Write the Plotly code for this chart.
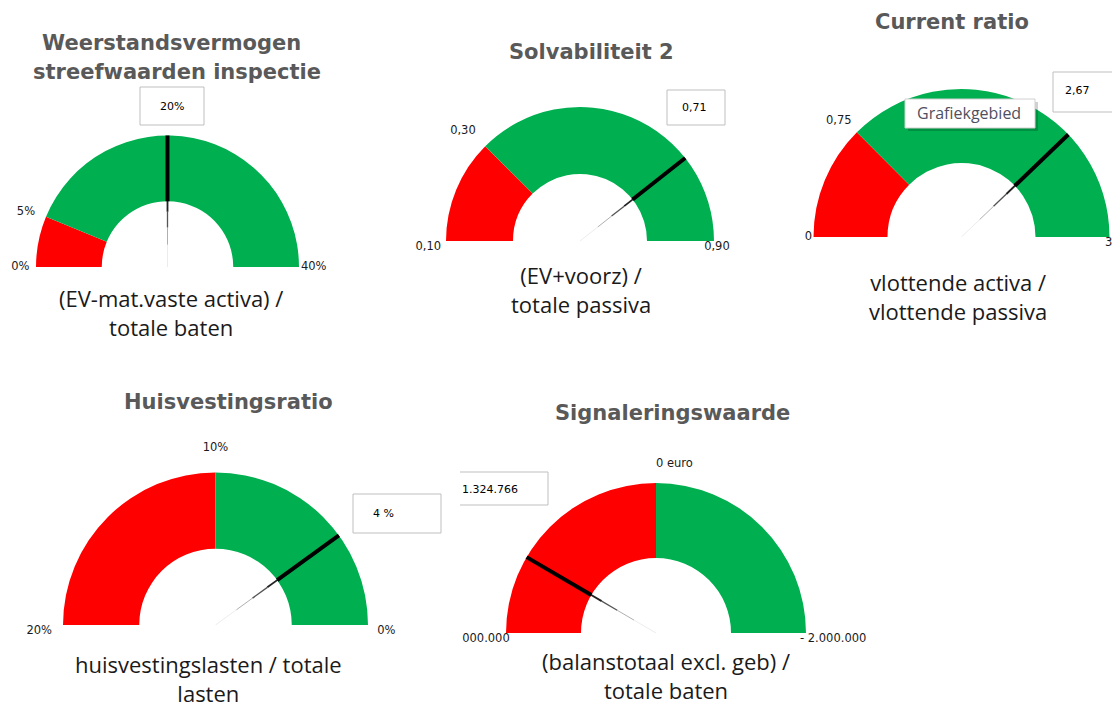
import plotly.graph_objects as go

PAGE_OFF = 8            # browser body margin around the plotly div
W, H = 1120 - PAGE_OFF, 708 - PAGE_OFF

# ---------------- data ----------------
title_lines = [
    ["Weerstandsvermogen", "streefwaarden inspectie"],
    ["Solvabiliteit 2"],
    ["Current ratio"],
    ["Huisvestingsratio"],
    ["Signaleringswaarde"],
]
subtitles = [
    "(EV-mat.vaste activa) /<br>totale baten",
    "(EV+voorz) /<br>totale passiva",
    "vlottende activa /<br>vlottende passiva",
    "huisvestingslasten / totale<br>lasten",
    "(balanstotaal excl. geb) /<br>totale baten",
]
scale_left = [0, 0.10, 0, 20, 2000000]          # value at left end of gauge
scale_right = [40, 0.90, 3, 0, -2000000]        # value at right end of gauge
thresholds = [5, 0.30, 0.75, 10, 0]             # red / green boundary
value_labels = ["20%", "0,71", "2,67", "4 %", "1.324.766"]   # values in the boxes
needle_values = [20, 0.73, 2.27, 4, 1324766]    # where the needles point
tick_labels = [
    ["0%", "5%", "40%"],
    ["0,10", "0,30", "0,90"],
    ["0", "0,75", "3"],
    ["20%", "10%", "0%"],
    ["000.000", "0 euro", "- 2.000.000"],
]
band_colors = ["#FF0000", "#00B050"]

# ---------------- styling / layout geometry (page pixels) ----------------
gauge_geom = [  # center x, baseline y, outer radius of the band
    (167.5, 267, 131.5),
    (580, 241, 134),
    (961.5, 237, 148),
    (215.5, 625, 152.5),
    (656, 633, 150),
]
RMAX = [1.15, 1.15, 1.068, 1.16, 1.12]     # radial room for the scale labels
label_r = [
    [1.05, 1.09, 1.015],
    [1.037, 1.10, 1.022],
    [1.01, 1.05, 0.995],
    [1.072, 1.12, 1.06],
    [0.975, 1.087, 0.96],
]
label_tp = [
    ["middle left", "middle left", "middle right"],
    ["bottom left", "top left", "bottom center"],
    ["middle left", "top left", "bottom center"],
    ["bottom left", "top center", "bottom right"],
    ["bottom left", "top right", "bottom right"],
]
title_pos = [
    [(171, 43), (177, 72)],
    [(591, 52)],
    [(952, 22)],
    [(228, 402)],
    [(672, 413)],
]
subtitle_pos = [(171, 312), (581, 290), (958, 297), (208, 678), (666, 675)]
box_rect = [
    (140, 87, 204, 125),
    (667, 90, 725, 125),
    (1053, 72, 1113, 112),
    (353, 494, 441, 533),
    (460, 472, 548, 505),
]
box_text_pos = [(172, 106, "center"), (694, 107, "center"), (1077, 91, "center"),
                (383, 513, "center"), (460, 489, "left")]
INNER = 0.5


def px(x):
    return (x - PAGE_OFF) / W


def py(y):
    return 1 - (y - PAGE_OFF) / H


fig = go.Figure()
annotations = []
shapes = []

for i in range(5):
    lo, hi = scale_left[i], scale_right[i]

    def ang(v, lo=lo, hi=hi):
        return (v - lo) / (hi - lo) * 180.0

    pid = "polar" if i == 0 else f"polar{i+1}"
    # coloured bands
    a0, a1, a2 = ang(lo), ang(thresholds[i]), ang(hi)
    fig.add_trace(go.Barpolar(
        theta=[(a0 + a1) / 2, (a1 + a2) / 2],
        width=[a1 - a0, a2 - a1],
        r=[1 - INNER, 1 - INNER],
        base=[INNER, INNER],
        marker=dict(color=band_colors, line=dict(width=0)),
        subplot=pid, hoverinfo="skip", showlegend=False,
    ))
    # needle: tapering inner part + thick outer part
    av = ang(needle_values[i])
    segs = [(0.0, 0.17, 0.4, "#D0D0D0"), (0.17, 0.3, 0.8, "#9A9A9A"),
            (0.3, 0.42, 1.3, "#555555"), (0.42, 0.52, 1.8, "#222222"),
            (0.5, 1.0, 4.0, "#000000")]
    for r0, r1, wdt, col in segs:
        fig.add_trace(go.Scatterpolar(
            r=[r0, r1], theta=[av, av], mode="lines",
            line=dict(color=col, width=wdt),
            subplot=pid, hoverinfo="skip", showlegend=False,
        ))
    # scale labels
    fig.add_trace(go.Scatterpolar(
        r=label_r[i], theta=[a0, a1, a2], mode="text",
        text=tick_labels[i], textposition=label_tp[i],
        textfont=dict(family="DejaVu Sans", size=11.5, color="#1a1a1a"),
        cliponaxis=False, subplot=pid, hoverinfo="skip", showlegend=False,
    ))

    cx, cy, R = gauge_geom[i]
    Rm = R * RMAX[i]
    fig.update_layout(**{pid: dict(
        domain=dict(x=[max(0, px(cx - Rm)), min(1, px(cx + Rm))],
                    y=[py(cy), py(cy - Rm)]),
        sector=[0, 180],
        bgcolor="rgba(0,0,0,0)",
        radialaxis=dict(range=[0, RMAX[i]], visible=False),
        angularaxis=dict(
            direction="clockwise", rotation=180, thetaunit="degrees",
            visible=False,
        ),
    )})

    for txt, (x, y) in zip(title_lines[i], title_pos[i]):
        annotations.append(dict(
            text=f"<b>{txt}</b>", x=px(x), y=py(y), xref="paper", yref="paper",
            xanchor="center", yanchor="middle", showarrow=False,
            font=dict(family="DejaVu Sans", size=21, color="#595959")))
    sx, sy = subtitle_pos[i]
    annotations.append(dict(
        text=subtitles[i], x=px(sx), y=py(sy), xref="paper", yref="paper",
        xanchor="center", yanchor="middle", showarrow=False,
        font=dict(family="Open Sans", size=22, color="#1a1a1a")))

    x0, y0, x1, y1 = box_rect[i]
    if i == 4:
        shapes.append(dict(type="path", xref="paper", yref="paper",
                           path=f"M {px(x0)},{py(y0)} L {px(x1)},{py(y0)} L {px(x1)},{py(y1)} L {px(x0)},{py(y1)}",
                           line=dict(color="#BFBFBF", width=1)))
    else:
        shapes.append(dict(type="rect", xref="paper", yref="paper",
                           x0=px(x0), x1=px(x1), y0=py(y0), y1=py(y1),
                           line=dict(color="#BFBFBF", width=1), fillcolor="white"))
    tx, ty, anc = box_text_pos[i]
    annotations.append(dict(
        text=value_labels[i], x=px(tx), y=py(ty), xref="paper", yref="paper",
        xanchor=anc, yanchor="middle", showarrow=False,
        font=dict(family="DejaVu Sans", size=11, color="#000000")))

# Excel tooltip ("Grafiekgebied")
shapes.append(dict(type="rect", xref="paper", yref="paper", layer="above",
                   x0=px(908), x1=px(1038), y0=py(102), y1=py(131),
                   line=dict(width=0), fillcolor="rgba(0,0,0,0.18)"))
shapes.append(dict(type="rect", xref="paper", yref="paper", layer="above",
                   x0=px(905), x1=px(1035), y0=py(99), y1=py(128),
                   line=dict(color="#D0D0D0", width=1), fillcolor="#FFFFFF"))
annotations.append(dict(
    text="Grafiekgebied", x=px(969), y=py(113.5), xref="paper", yref="paper",
    xanchor="center", yanchor="middle", showarrow=False,
    font=dict(family="Open Sans", size=16, color="#4F4F5F")))

fig.update_layout(
    width=W, height=H,
    margin=dict(l=0, r=0, t=0, b=0),
    paper_bgcolor="white", plot_bgcolor="white",
    showlegend=False,
    annotations=annotations, shapes=shapes,
)

fig.write_html("out.html")
